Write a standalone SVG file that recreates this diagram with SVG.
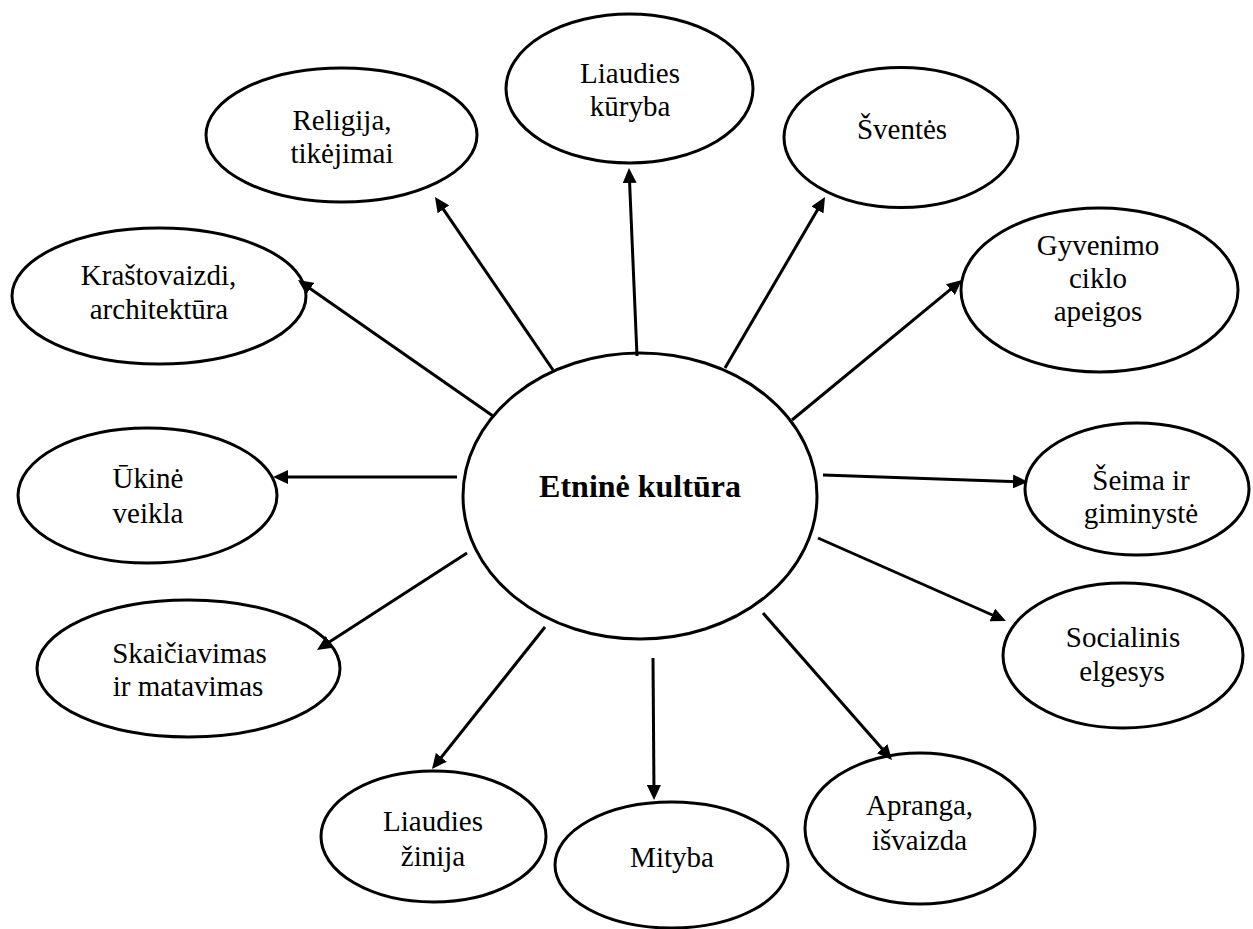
<svg xmlns="http://www.w3.org/2000/svg" width="1253" height="929" viewBox="0 0 1253 929">
<style>
.n{fill:#fff;stroke:#000;stroke-width:3}
text{font-family:'Liberation Serif','DejaVu Serif',serif;font-size:29px;fill:#000;text-anchor:middle}
.b{font-weight:bold;font-size:32px}
.c line{stroke:#000;stroke-width:3}
</style>
<defs>
<marker id="ah" markerUnits="userSpaceOnUse" markerWidth="15" markerHeight="14" refX="10" refY="7" orient="auto">
<path d="M0,0 L15,7 L0,14 z" fill="#000"/>
</marker>
</defs>
<rect width="1253" height="929" fill="#fff"/>
<g font-family="Liberation Serif, serif">
<g id="center"><ellipse class="n" cx="640" cy="496" rx="177" ry="143"/><text class="b" x="640" y="497">Etninė kultūra</text></g>
<g id="religija"><ellipse class="n" cx="341.5" cy="135" rx="135.5" ry="67"/><text x="342" y="130">Religija,</text><text x="342" y="163">tikėjimai</text></g>
<g id="kuryba"><ellipse class="n" cx="629.5" cy="88.5" rx="123.5" ry="74.5"/><text x="630" y="83">Liaudies</text><text x="630" y="116">kūryba</text></g>
<g id="sventes"><ellipse class="n" cx="901" cy="137.5" rx="117" ry="70"/><text x="902" y="139">Šventės</text></g>
<g id="gyvenimo"><ellipse class="n" cx="1099.5" cy="290" rx="138.5" ry="82"/><text x="1098" y="255">Gyvenimo</text><text x="1098" y="288">ciklo</text><text x="1098" y="321">apeigos</text></g>
<g id="seima"><ellipse class="n" cx="1137" cy="489" rx="112" ry="66"/><text x="1141" y="490">Šeima ir</text><text x="1141" y="523">giminystė</text></g>
<g id="socialinis"><ellipse class="n" cx="1123" cy="655.5" rx="120" ry="72.5"/><text x="1123" y="647">Socialinis</text><text x="1122" y="681">elgesys</text></g>
<g id="apranga"><ellipse class="n" cx="920" cy="828.5" rx="115" ry="75.5"/><text x="919.5" y="815">Apranga,</text><text x="919.5" y="850">išvaizda</text></g>
<g id="mityba"><ellipse class="n" cx="671.5" cy="865" rx="116.5" ry="63"/><text x="672" y="867">Mityba</text></g>
<g id="zinija"><ellipse class="n" cx="433.5" cy="836.5" rx="112.5" ry="65.5"/><text x="433" y="831">Liaudies</text><text x="433" y="866">žinija</text></g>
<g id="skaiciavimas"><ellipse class="n" cx="188.5" cy="668.5" rx="151.5" ry="68.5"/><text x="189.5" y="663">Skaičiavimas</text><text x="188" y="696">ir matavimas</text></g>
<g id="ukine"><ellipse class="n" cx="147.5" cy="495.5" rx="129.5" ry="67.5"/><text x="148" y="488">Ūkinė</text><text x="148" y="523">veikla</text></g>
<g id="krastovaizdi"><ellipse class="n" cx="159" cy="296" rx="147" ry="68"/><text x="158.5" y="285">Kraštovaizdi,</text><text x="159" y="319">architektūra</text></g>
</g>
<g id="connectors" class="c">
<line x1="493" y1="416" x2="302.1" y2="282.9" marker-end="url(#ah)"/>
<line x1="553" y1="370" x2="437.8" y2="201.1" marker-end="url(#ah)"/>
<line x1="637" y1="356" x2="629.2" y2="173" marker-end="url(#ah)"/>
<line x1="725" y1="368" x2="822.5" y2="201.3" marker-end="url(#ah)"/>
<line x1="792" y1="420" x2="958.1" y2="283.2" marker-end="url(#ah)"/>
<line x1="823" y1="475" x2="1023" y2="481.8" marker-end="url(#ah)"/>
<line x1="818" y1="538" x2="1001.4" y2="619" marker-end="url(#ah)"/>
<line x1="763" y1="613" x2="888.7" y2="756.2" marker-end="url(#ah)"/>
<line x1="653" y1="658" x2="654" y2="795" marker-end="url(#ah)"/>
<line x1="545" y1="627" x2="435.1" y2="765.1" marker-end="url(#ah)"/>
<line x1="467" y1="553" x2="321.2" y2="647.3" marker-end="url(#ah)"/>
<line x1="457" y1="477" x2="278" y2="477" marker-end="url(#ah)"/>
</g>
</svg>
